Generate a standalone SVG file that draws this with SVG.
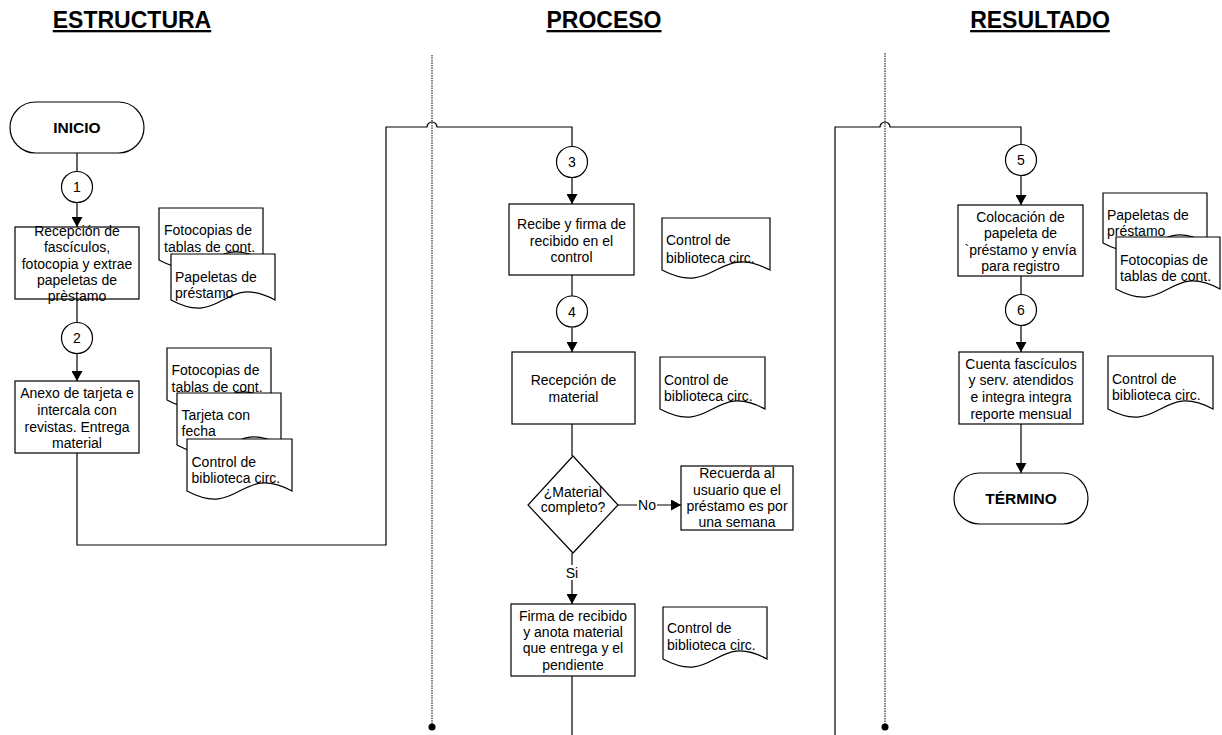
<svg xmlns="http://www.w3.org/2000/svg" width="1222" height="735" viewBox="0 0 1222 735">
<defs>
<marker id="arr" markerUnits="userSpaceOnUse" markerWidth="11" markerHeight="11" refX="10" refY="5.5" orient="auto">
<path d="M0,0 L10,5.5 L0,11 z" fill="#000"/>
</marker>
</defs>
<style>
text{font-family:"Liberation Sans",Arial,sans-serif;font-size:14px;fill:#000}
.h{font-size:23px;font-weight:bold;text-anchor:middle;text-decoration:underline}
.c{text-anchor:middle}
.b{font-weight:bold;font-size:15.5px;text-anchor:middle}
.box{fill:#fff;stroke:#000;stroke-width:1.2}
.doc{fill:#fff;stroke:#000;stroke-width:1.2}
.ln{fill:none;stroke:#000;stroke-width:1.2}
.arw{fill:none;stroke:#000;stroke-width:1.2;marker-end:url(#arr)}
.div{fill:none;stroke:#000;stroke-width:1;stroke-dasharray:1.5,1}
</style>
<rect width="1222" height="735" fill="#fff"/>

<g id="headers">
<text class="h" x="132" y="28">ESTRUCTURA</text>
<text class="h" x="604" y="28">PROCESO</text>
<text class="h" x="1040" y="28">RESULTADO</text>
</g>

<g id="dividers">
<line class="div" x1="432" y1="55" x2="432" y2="727"/>
<circle cx="432" cy="727" r="3.5" fill="#000"/>
<line class="div" x1="885" y1="53" x2="885" y2="727"/>
<circle cx="885" cy="727" r="3.5" fill="#000"/>
</g>

<g id="connectors">
<line class="ln" x1="77" y1="153" x2="77" y2="171.5"/>
<line class="arw" x1="77" y1="202.5" x2="77" y2="227"/>
<line class="ln" x1="77" y1="299" x2="77" y2="322.5"/>
<line class="arw" x1="77" y1="353.5" x2="77" y2="381"/>
<path class="ln" d="M77,453 V545 H386 V127 H427 A5,5 0 0 1 437,127 H572 V146.5"/>
<line class="arw" x1="572" y1="177.5" x2="572" y2="204"/>
<line class="ln" x1="572" y1="275" x2="572" y2="296"/>
<line class="arw" x1="572" y1="327" x2="572" y2="352"/>
<line class="ln" x1="572" y1="424" x2="572" y2="456"/>
<line class="arw" x1="618" y1="505" x2="681" y2="505"/>
<line class="arw" x1="572" y1="553" x2="572" y2="604"/>
<line class="ln" x1="572" y1="676" x2="572" y2="735"/>
<path class="ln" d="M835,735 V127 H880 A5,5 0 0 1 890,127 H1021 V144.5"/>
<line class="arw" x1="1021" y1="175.5" x2="1021" y2="205"/>
<line class="ln" x1="1021" y1="276" x2="1021" y2="294.5"/>
<line class="arw" x1="1021" y1="325.5" x2="1021" y2="352"/>
<line class="arw" x1="1021" y1="424" x2="1021" y2="473"/>
<rect x="637" y="497" width="20" height="15" fill="#fff"/>
<text class="c" x="647" y="510">No</text>
<rect x="563" y="565" width="18" height="15" fill="#fff"/>
<text class="c" x="572" y="578">Si</text>
</g>

<g id="inicio">
<rect class="box" x="10" y="102" width="134" height="51" rx="25.5"/>
<text class="b" x="77" y="133">INICIO</text>
</g>
<g id="c1"><circle class="box" cx="77" cy="187" r="15.5"/><text class="c" x="77" y="192">1</text></g>
<g id="p1">
<rect class="box" x="15" y="227" width="124" height="72"/>
<text class="c" x="77" y="236">Recepción de</text>
<text class="c" x="77" y="252">fascículos,</text>
<text class="c" x="77" y="268.5">fotocopia y extrae</text>
<text class="c" x="77" y="285">papeletas de</text>
<text class="c" x="77" y="301">prèstamo</text>
</g>
<g id="docA">
<path class="doc" d="M159,208 h104 v52 C211,232 211,288 159,260 Z"/>
<text x="164" y="235">Fotocopias de</text>
<text x="164" y="252">tablas de cont.</text>
</g>
<g id="docB">
<path class="doc" d="M171,254 h104 v46 C223,272 223,328 171,300 Z"/>
<text x="175" y="282">Papeletas de</text>
<text x="175" y="298">préstamo</text>
</g>
<g id="c2"><circle class="box" cx="77" cy="338" r="15.5"/><text class="c" x="77" y="343">2</text></g>
<g id="p2">
<rect class="box" x="15" y="381" width="124" height="72"/>
<text class="c" x="77" y="398">Anexo de tarjeta e</text>
<text class="c" x="77" y="414.5">intercala con</text>
<text class="c" x="77" y="431.5">revistas. Entrega</text>
<text class="c" x="77" y="448">material</text>
</g>
<g id="docC">
<path class="doc" d="M167,348 h104 v52 C219,372 219,428 167,400 Z"/>
<text x="171.5" y="375">Fotocopias de</text>
<text x="171.5" y="392">tablas de cont.</text>
</g>
<g id="docD">
<path class="doc" d="M177,393 h104 v52 C229,417 229,473 177,445 Z"/>
<text x="181.5" y="420">Tarjeta con</text>
<text x="181.5" y="436">fecha</text>
</g>
<g id="docE">
<path class="doc" d="M187,439 h105 v52 C239.5,463 239.5,519 187,491 Z"/>
<text x="191.5" y="467">Control de</text>
<text x="191.5" y="483">biblioteca circ.</text>
</g>

<g id="c3"><circle class="box" cx="572" cy="162" r="15.5"/><text class="c" x="572" y="167">3</text></g>
<g id="p3">
<rect class="box" x="509" y="204" width="125" height="71"/>
<text class="c" x="571.5" y="229">Recibe y firma de</text>
<text class="c" x="571.5" y="246">recibido en el</text>
<text class="c" x="571.5" y="262">control</text>
</g>
<g id="docF">
<path class="doc" d="M662,218 h108 v52 C716,242 716,298 662,270 Z"/>
<text x="666" y="245">Control de</text>
<text x="666" y="263">biblioteca circ.</text>
</g>
<g id="c4"><circle class="box" cx="572" cy="311.5" r="15.5"/><text class="c" x="572" y="316.5">4</text></g>
<g id="p4">
<rect class="box" x="512" y="352" width="123" height="72"/>
<text class="c" x="573.5" y="385">Recepción de</text>
<text class="c" x="573.5" y="402">material</text>
</g>
<g id="docG">
<path class="doc" d="M660,357 h105 v52 C712.5,381 712.5,437 660,409 Z"/>
<text x="664" y="385">Control de</text>
<text x="664" y="401">biblioteca circ.</text>
</g>
<g id="d1">
<path class="box" d="M573,456 L618,505 L573,553 L528,505 Z"/>
<text class="c" x="573" y="497">¿Material</text>
<text class="c" x="573" y="512">completo?</text>
</g>
<g id="p5">
<rect class="box" x="681" y="466" width="112" height="64"/>
<text class="c" x="737" y="478">Recuerda al</text>
<text class="c" x="737" y="494.5">usuario que el</text>
<text class="c" x="737" y="511">préstamo es por</text>
<text class="c" x="737" y="527">una semana</text>
</g>
<g id="p6">
<rect class="box" x="511" y="604" width="124" height="72"/>
<text class="c" x="573" y="621">Firma de recibido</text>
<text class="c" x="573" y="637">y anota material</text>
<text class="c" x="573" y="653">que entrega y el</text>
<text class="c" x="573" y="670">pendiente</text>
</g>
<g id="docH">
<path class="doc" d="M663,607 h104 v52 C715,631 715,687 663,659 Z"/>
<text x="667" y="633">Control de</text>
<text x="667" y="650">biblioteca circ.</text>
</g>

<g id="c5"><circle class="box" cx="1021" cy="160" r="15.5"/><text class="c" x="1021" y="165">5</text></g>
<g id="p7">
<rect class="box" x="958" y="205" width="125" height="71"/>
<text class="c" x="1020.5" y="222">Colocación de</text>
<text class="c" x="1020.5" y="238">papeleta de</text>
<text class="c" x="1020.5" y="254.5">`préstamo y envía</text>
<text class="c" x="1020.5" y="271">para registro</text>
</g>
<g id="docI">
<path class="doc" d="M1103,193 h104 v50 C1155,215 1155,271 1103,243 Z"/>
<text x="1107" y="220">Papeletas de</text>
<text x="1107" y="236">préstamo</text>
</g>
<g id="docJ">
<path class="doc" d="M1116,237 h104 v52 C1168,261 1168,317 1116,289 Z"/>
<text x="1120" y="265">Fotocopias de</text>
<text x="1120" y="281">tablas de cont.</text>
</g>
<g id="c6"><circle class="box" cx="1021" cy="310" r="15.5"/><text class="c" x="1021" y="315">6</text></g>
<g id="p8">
<rect class="box" x="959" y="352" width="124" height="72"/>
<text class="c" x="1021" y="368.5">Cuenta fascículos</text>
<text class="c" x="1021" y="385">y serv. atendidos</text>
<text class="c" x="1021" y="402">e integra integra</text>
<text class="c" x="1021" y="418.5">reporte mensual</text>
</g>
<g id="docK">
<path class="doc" d="M1108,356 h105 v53 C1160.5,381 1160.5,437 1108,409 Z"/>
<text x="1112" y="384">Control de</text>
<text x="1112" y="400">biblioteca circ.</text>
</g>
<g id="termino">
<rect class="box" x="954" y="473" width="134" height="51" rx="25.5"/>
<text class="b" x="1021" y="504">TÉRMINO</text>
</g>
</svg>
